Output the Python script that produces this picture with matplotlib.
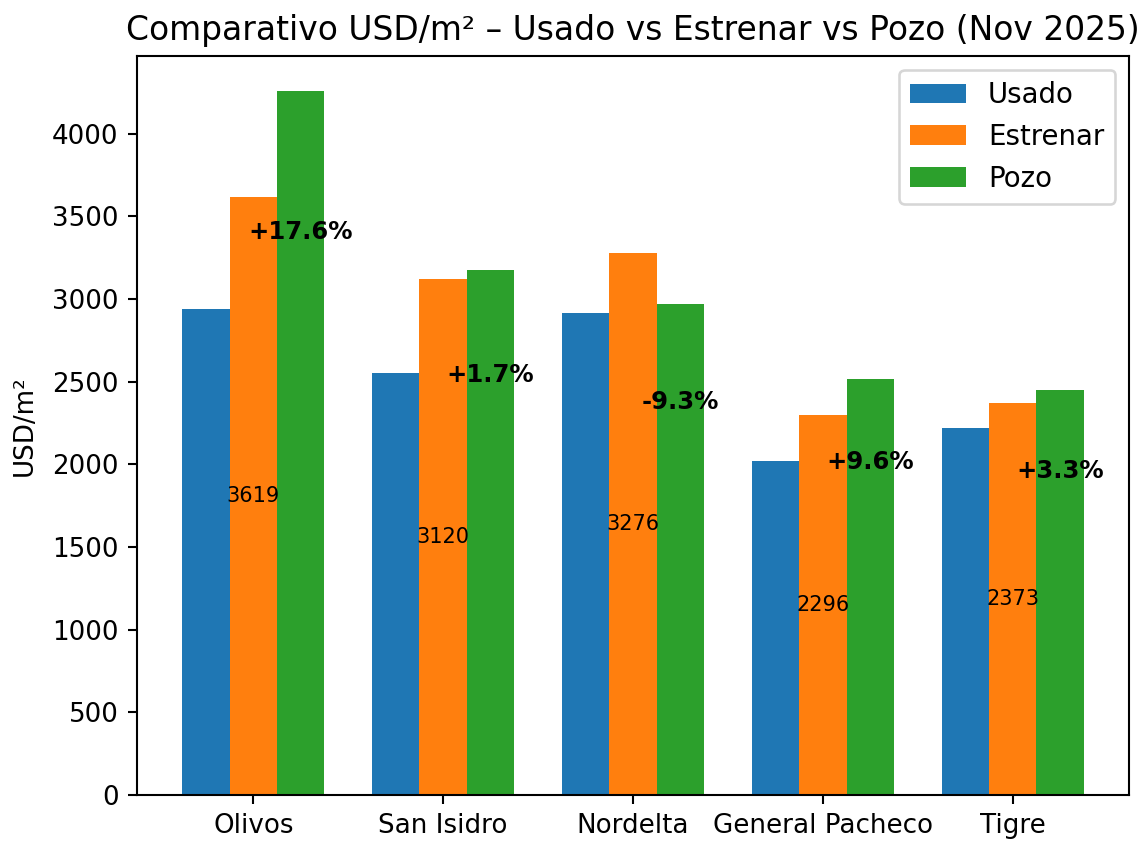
import numpy as np
import matplotlib.pyplot as plt

# USD/m2 por zona, Nov 2025
zonas = ['Olivos', 'San Isidro', 'Nordelta', 'General Pacheco', 'Tigre']
usado = [2940, 2554, 2916, 2018, 2217]
estrenar = [3619, 3120, 3276, 2296, 2373]
pozo = [4256, 3172, 2972, 2516, 2451]
pct = ['+17.6%', '+1.7%', '-9.3%', '+9.6%', '+3.3%']

x = np.arange(len(zonas))
w = 0.25
DPI = 188

fig = plt.figure(figsize=(1148 / DPI, 843 / DPI), dpi=DPI)
ax = fig.add_axes([137 / 1148, 48 / 843, 992 / 1148, 739 / 843])

ax.bar(x - w, usado, w, label='Usado')
ax.bar(x, estrenar, w, label='Estrenar')
ax.bar(x + w, pozo, w, label='Pozo')

# valor estrenar en el medio de la barra
for i, v in enumerate(estrenar):
    ax.text(x[i], v / 2, str(v), ha='center', va='center', fontsize=8)

# diferencia pozo vs estrenar
for i, p in enumerate(pct):
    ax.text(x[i] + w, pozo[i] * 0.8, p, ha='center', va='center',
            fontsize=9.3, fontweight='bold')

ax.set_xticks(x)
ax.set_xticklabels(zonas)
ax.set_ylabel('USD/m²')
ax.yaxis.set_label_coords(-0.1, 0.5)
ax.set_title('Comparativo USD/m² – Usado vs Estrenar vs Pozo (Nov 2025)', fontsize=12.6)
ax.legend(fontsize=10.6)

fig.savefig('out.png', dpi=DPI)
